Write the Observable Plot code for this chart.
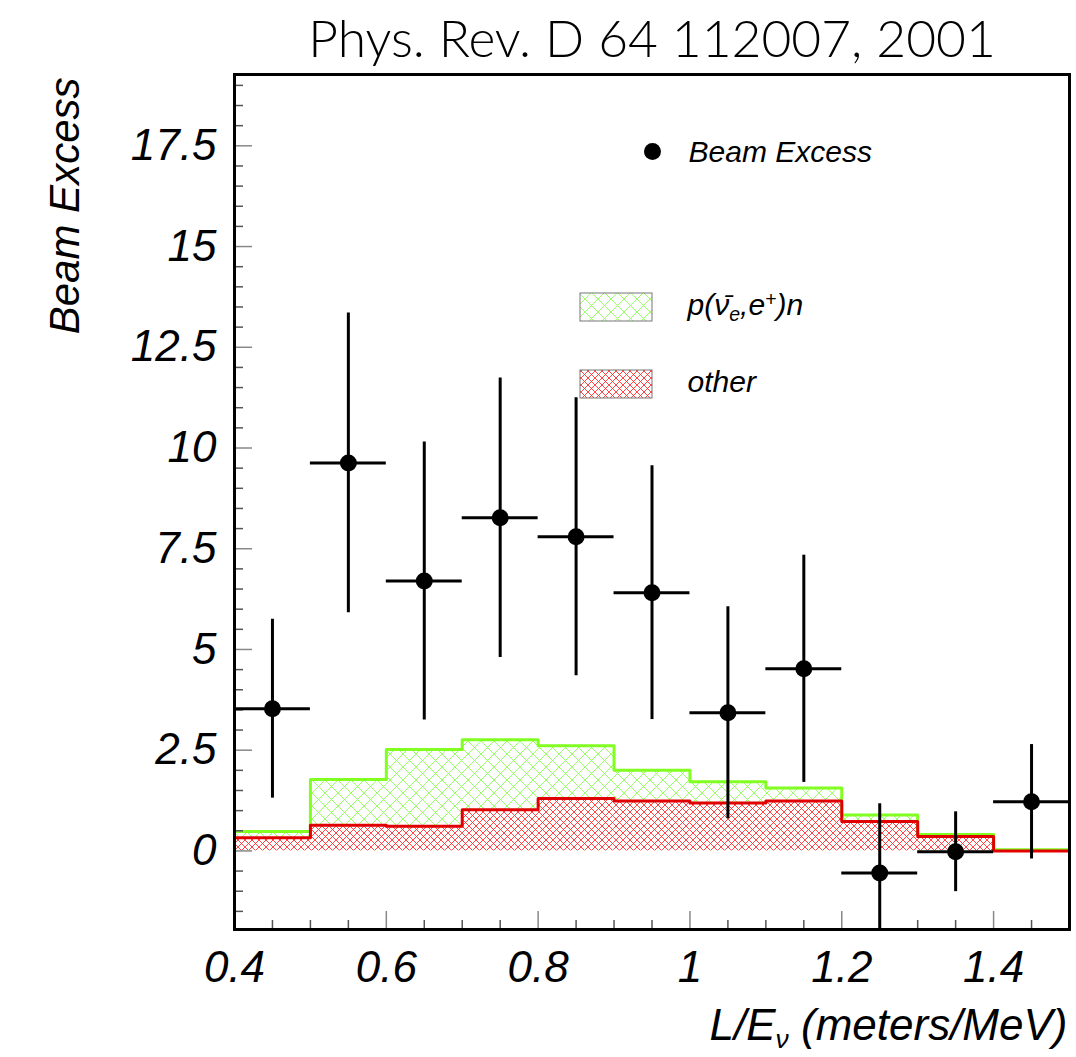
<!DOCTYPE html>
<html>
<head>
<meta charset="utf-8">
<script src="https://cdn.jsdelivr.net/npm/d3@7"></script>
<script src="https://cdn.jsdelivr.net/npm/@observablehq/plot@0.6"></script>
<style>
  html, body { margin: 0; padding: 0; background: #fff; }
  #chart { width: 1076px; height: 1057px; }
</style>
</head>
<body>
<div id="chart"></div>
<script>
// ---------- data ----------
const binEdges   = [0.4, 0.5, 0.6, 0.7, 0.8, 0.9, 1.0, 1.1, 1.2, 1.3, 1.4, 1.5];
const otherBkg   = [0.33, 0.64, 0.61, 1.02, 1.30, 1.24, 1.19, 1.24, 0.73, 0.36, 0.00];
const nuebarPn   = [0.15, 1.13, 1.91, 1.74, 1.31, 0.76, 0.53, 0.32, 0.16, 0.05, 0.03];
const binCenters = [0.45, 0.55, 0.65, 0.75, 0.85, 0.95, 1.05, 1.15, 1.25, 1.35, 1.45];
const beamExcess = [3.53, 9.63, 6.70, 8.27, 7.80, 6.41, 3.43, 4.52, -0.55, -0.02, 1.22];
const excessErr  = [2.22, 3.72, 3.45, 3.47, 3.45, 3.15, 2.63, 2.82, 1.72, 0.99, 1.42];
const binHalfWidth = 0.05;

const xMajorTicks = [0.4, 0.6, 0.8, 1.0, 1.2, 1.4];
const xTickLabels = ["0.4", "0.6", "0.8", "1", "1.2", "1.4"];
const yMajorTicks = [0, 2.5, 5, 7.5, 10, 12.5, 15, 17.5];
const yTickLabels = ["0", "2.5", "5", "7.5", "10", "12.5", "15", "17.5"];
const xMinorTicks = d3.range(0.45, 1.5, 0.05).map(v => +v.toFixed(2)).filter(v => !xMajorTicks.some(m => Math.abs(m - v) < 1e-6));
const yMinorTicks = d3.range(-1.5, 19.26, 0.5).filter(v => !yMajorTicks.includes(v));

const titleText = "Phys. Rev. D 64 112007, 2001";
const yLabel = "Beam Excess";
const xLabel = "L/E\u03bd (meters/MeV)";
const legendExcess = "Beam Excess";
const legendSignal = "p(\u03bd\u0304e,e+)n";
const legendOther = "other";

// ---------- derived tables ----------
const nBins = otherBkg.length;
const bins = d3.range(nBins).map(i => ({
  x1: binEdges[i], x2: binEdges[i + 1],
  other: otherBkg[i], total: otherBkg[i] + nuebarPn[i]
}));
const stepOther = binEdges.map((x, i) => ({x, y: otherBkg[Math.min(i, nBins - 1)]}));
const stepTotal = binEdges.map((x, i) => ({x, y: bins[Math.min(i, nBins - 1)].total}));
const points = binCenters.map((x, i) => ({x, y: beamExcess[i], e: excessErr[i]}));

// ---------- layout ----------
const W = 1076, H = 1057;
const mL = 234, mR = 7, mT = 74, mB = 128;
const innerW = W - mL - mR, innerH = H - mT - mB;
const GREEN = "#80ff20", RED = "#e00000";

function defsAndLegendBoxes(index, scales, values, dims) {
  const g = d3.create("svg:g");
  const defs = g.append("defs");
  const mk = (id, size, color, sw) => {
    const p = defs.append("pattern").attr("id", id).attr("patternUnits", "userSpaceOnUse")
      .attr("width", size).attr("height", size);
    p.append("path").attr("d", `M-1,-1L${size + 1},${size + 1}M-1,${size + 1}L${size + 1},-1`)
      .attr("stroke", color).attr("stroke-width", sw).attr("fill", "none");
  };
  mk("hatchGreen", 13, "#8cff55", 0.9);
  mk("hatchRed", 7, "#ff3030", 0.9);
  const L = dims.marginLeft, T = dims.marginTop;
  g.append("rect").attr("x", L + 346).attr("y", T + 219).attr("width", 72).attr("height", 28)
    .attr("fill", "url(#hatchGreen)").attr("stroke", "#777").attr("stroke-width", 1);
  g.append("rect").attr("x", L + 346).attr("y", T + 296).attr("width", 72).attr("height", 28)
    .attr("fill", "url(#hatchRed)").attr("stroke", "#777").attr("stroke-width", 1);
  return g.node();
}

const chart = Plot.plot({
  width: W, height: H,
  marginLeft: mL, marginRight: mR, marginTop: mT, marginBottom: mB,
  style: {fontFamily: "'Liberation Sans', Arial, sans-serif", fontStyle: "italic", background: "#fff", color: "#000"},
  x: {domain: [0.4, 1.5]},
  y: {domain: [-1.95, 19.27]},
  marks: [
    defsAndLegendBoxes,
    // hatched histograms
    Plot.rect(bins, {x1: "x1", x2: "x2", y1: "other", y2: "total", fill: "url(#hatchGreen)"}),
    Plot.rect(bins, {x1: "x1", x2: "x2", y1: 0, y2: "other", fill: "url(#hatchRed)"}),
    Plot.line(stepTotal, {x: "x", y: "y", curve: "step-after", stroke: GREEN, strokeWidth: 3}),
    Plot.line(stepOther, {x: "x", y: "y", curve: "step-after", stroke: RED, strokeWidth: 3}),
    // inward ticks
    Plot.ruleY(yMajorTicks, {insetRight: innerW - 18, stroke: "#888", strokeWidth: 1.5}),
    Plot.ruleY(yMinorTicks, {insetRight: innerW - 9, stroke: "#555", strokeWidth: 1.5}),
    Plot.ruleX(xMajorTicks, {insetTop: innerH - 18, stroke: "#888", strokeWidth: 1.5}),
    Plot.ruleX(xMinorTicks, {insetTop: innerH - 9, stroke: "#555", strokeWidth: 1.5}),
    // error bars and points
    Plot.ruleY(points, {y: "y", x1: d => d.x - binHalfWidth, x2: d => d.x + binHalfWidth, stroke: "#000", strokeWidth: 3, clip: true}),
    Plot.ruleX(points, {x: "x", y1: d => d.y - d.e, y2: d => d.y + d.e, stroke: "#000", strokeWidth: 3, clip: true}),
    Plot.dot(points, {x: "x", y: "y", r: 8.5, fill: "#000"}),
    Plot.frame({stroke: "#000", strokeWidth: 3}),
    // axes
    Plot.axisX(xMajorTicks, {tickSize: 0, tickPadding: 21, fontSize: 44, label: null,
      tickFormat: d => xTickLabels[xMajorTicks.indexOf(d)]}),
    Plot.axisY(yMajorTicks, {tickSize: 0, tickPadding: 18, fontSize: 44, label: null,
      tickFormat: d => yTickLabels[yMajorTicks.indexOf(d)]}),
    // titles
    Plot.text([titleText], {frameAnchor: "top", dy: -34, fontSize: 51.5, fontStyle: "normal",
      fontFamily: "Lato, sans-serif", fontWeight: 300, lineAnchor: "middle"}),
    Plot.text([yLabel], {frameAnchor: "top-left", dx: -169, dy: 3, rotate: -90, textAnchor: "end",
      lineAnchor: "middle", fontSize: 42}),
    Plot.text([xLabel], {frameAnchor: "bottom-right", dx: -2, dy: 96, textAnchor: "end",
      lineAnchor: "middle", fontSize: 44}),
    // legend
    Plot.dot([legendExcess], {frameAnchor: "top-left", dx: 418, dy: 77, r: 8.5, fill: "#000"}),
    Plot.text([legendExcess], {frameAnchor: "top-left", dx: 454, dy: 78, textAnchor: "start", lineAnchor: "middle", fontSize: 30}),
    Plot.text([legendSignal], {frameAnchor: "top-left", dx: 453, dy: 231, textAnchor: "start", lineAnchor: "middle", fontSize: 30}),
    Plot.text([legendOther], {frameAnchor: "top-left", dx: 453, dy: 308, textAnchor: "start", lineAnchor: "middle", fontSize: 30})
  ]
});

// sub/superscripts in labels
d3.select(chart).selectAll("text").each(function() {
  const t = d3.select(this);
  const s = this.textContent;
  if (s === xLabel) {
    t.text("");
    t.append("tspan").text("L/E");
    t.append("tspan").attr("dy", "0.3em").attr("font-size", "0.6em").text("\u03bd");
    t.append("tspan").attr("dy", "-0.18em").text(" (meters/MeV)");
  } else if (s === legendSignal) {
    t.text("");
    t.append("tspan").text("p(\u03bd\u0304");
    t.append("tspan").attr("dy", "0.3em").attr("font-size", "0.65em").text("e");
    t.append("tspan").attr("dy", "-0.195em").text(",e");
    t.append("tspan").attr("dy", "-0.45em").attr("font-size", "0.65em").text("+");
    t.append("tspan").attr("dy", "0.29em").text(")n");
  }
});

document.getElementById("chart").appendChild(chart);
</script>
</body>
</html>
